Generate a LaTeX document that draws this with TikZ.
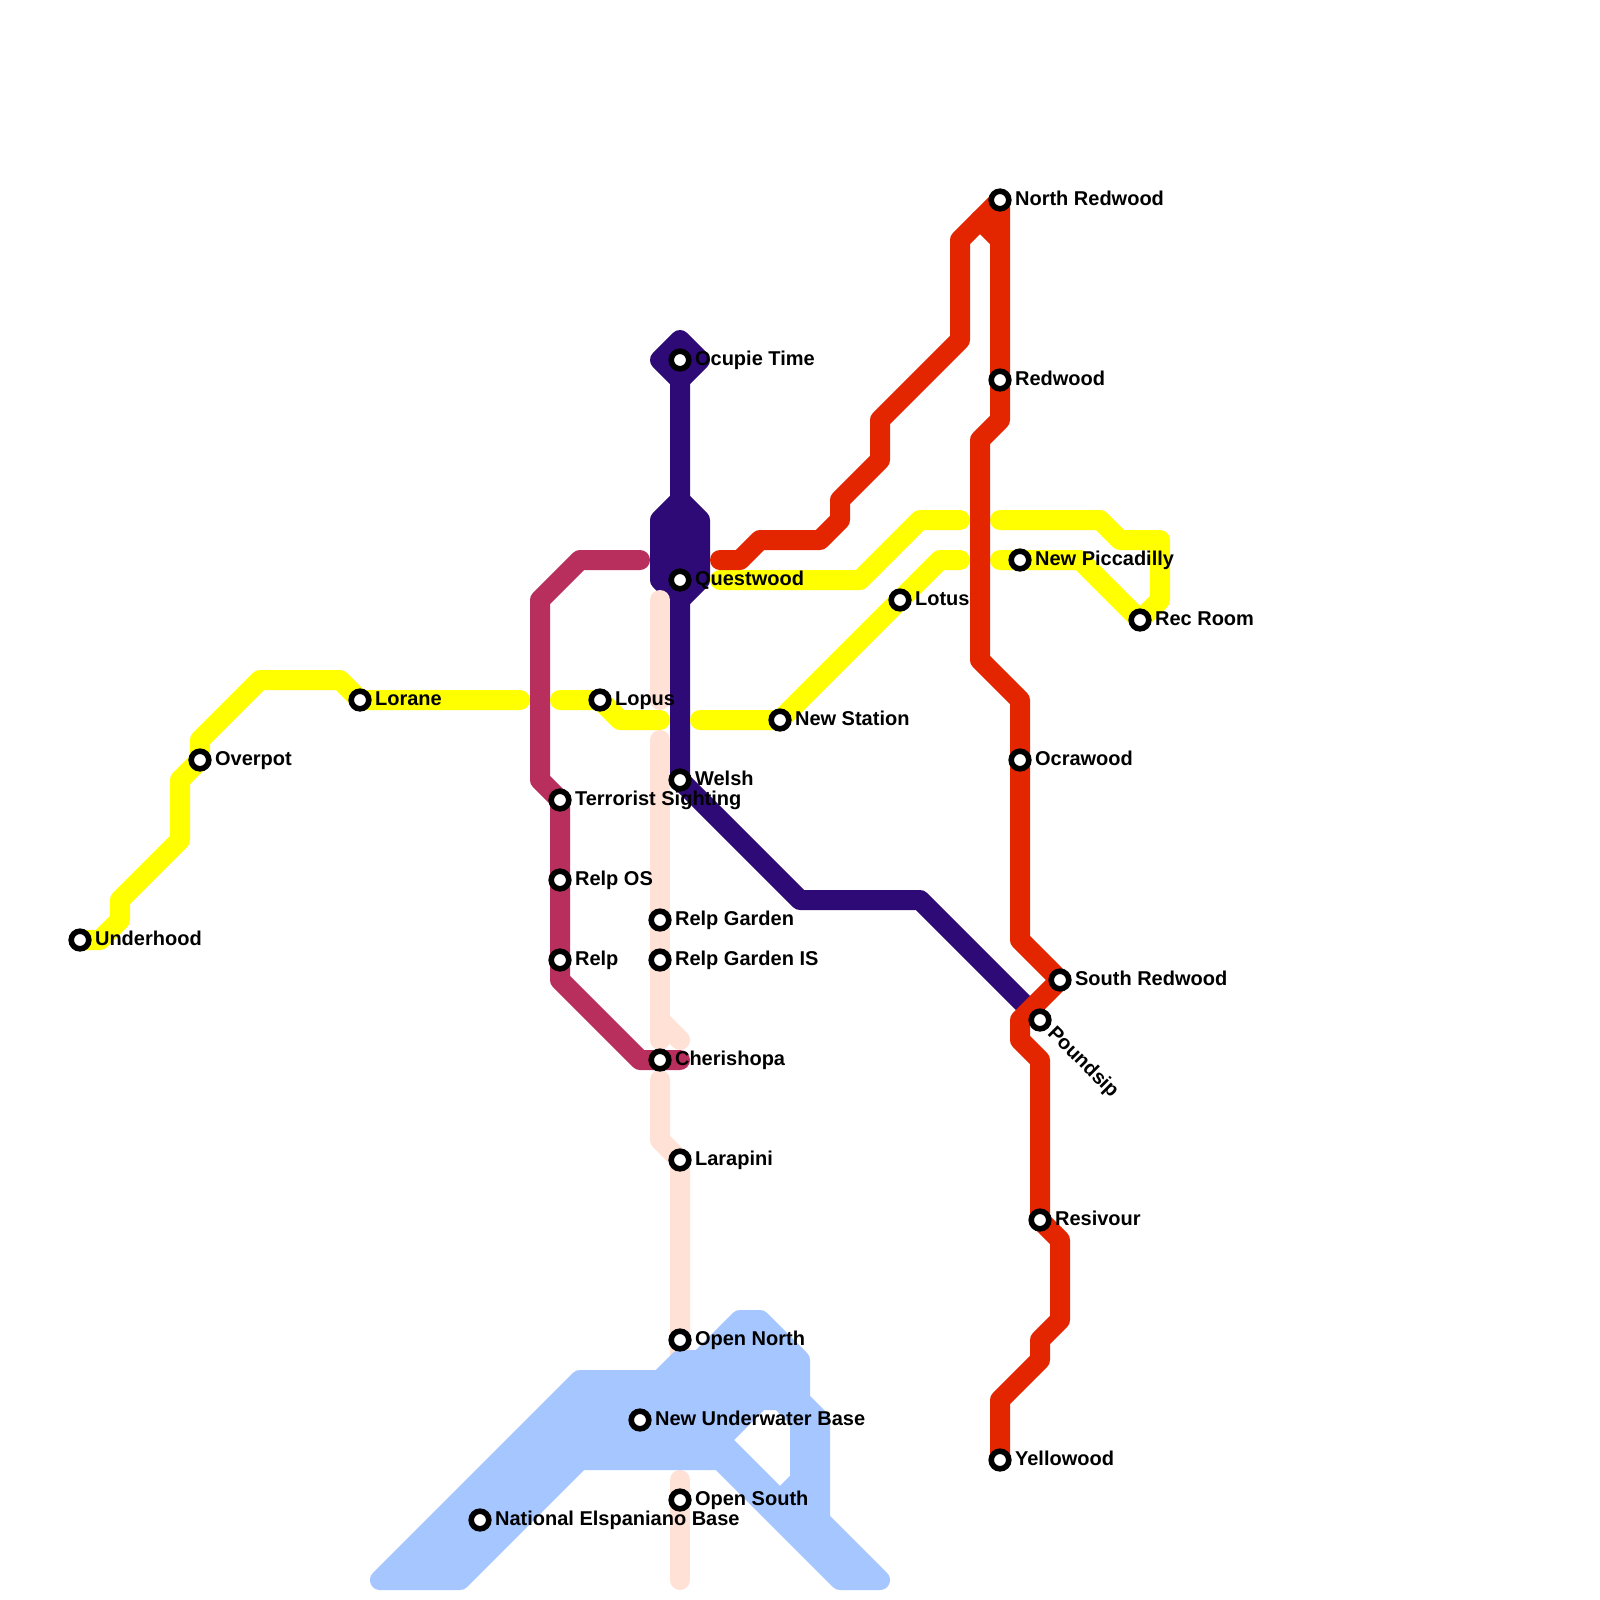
\documentclass[tikz,border=0pt]{standalone}
\usepackage{fontspec}
\setmainfont{Liberation Sans}
\definecolor{lyellow}{HTML}{FFFF00}
\definecolor{lred}{HTML}{E42600}
\definecolor{lpurple}{HTML}{2D0A75}
\definecolor{lmaroon}{HTML}{B82E5C}
\definecolor{lpale}{HTML}{FFE1D6}
\definecolor{lblue}{HTML}{A6C6FF}
\tikzset{
  metro/.style={line width=0.5cm,line cap=round,line join=round},
  yline/.style={metro,draw=lyellow},
  rline/.style={metro,draw=lred},
  pline/.style={metro,draw=lpurple},
  mline/.style={metro,draw=lmaroon},
  sline/.style={metro,draw=lpale},
  bline/.style={metro,draw=lblue,fill=lblue,even odd rule},
  stn/.style={circle,draw=black,fill=white,line width=0.14cm,minimum size=0.44cm,inner sep=0pt},
  lab/.style={anchor=base west,inner sep=0pt,xshift=0.37cm,yshift=-0.125cm,font=\fontsize{0.5cm}{0.6cm}\selectfont\bfseries},
  labd/.style={anchor=base west,inner sep=0pt,xshift=0.165cm,yshift=-0.345cm,rotate=-45,font=\fontsize{0.5cm}{0.6cm}\selectfont\bfseries}
}
\begin{document}
\begin{tikzpicture}[x=0.5cm,y=-0.5cm]
\useasboundingbox (0,0) rectangle (80,80);
\fill[white] (0,0) rectangle (80,80);
% station positions
\coordinate (underhood) at (4,47);
\coordinate (overpot) at (10,38);
\coordinate (lorane) at (18,35);
\coordinate (lopus) at (30,35);
\coordinate (ocupie) at (34,18);
\coordinate (questwood) at (34,29);
\coordinate (terrorist) at (28,40);
\coordinate (relpos) at (28,44);
\coordinate (relp) at (28,48);
\coordinate (garden) at (33,46);
\coordinate (gardenis) at (33,48);
\coordinate (cherishopa) at (33,53);
\coordinate (larapini) at (34,58);
\coordinate (opennorth) at (34,67);
\coordinate (newunder) at (32,71);
\coordinate (opensouth) at (34,75);
\coordinate (national) at (24,76);
\coordinate (welsh) at (34,39);
\coordinate (newstation) at (39,36);
\coordinate (lotus) at (45,30);
\coordinate (northred) at (50,10);
\coordinate (redwood) at (50,19);
\coordinate (piccadilly) at (51,28);
\coordinate (recroom) at (57,31);
\coordinate (ocrawood) at (51,38);
\coordinate (southred) at (53,49);
\coordinate (poundsip) at (52,51);
\coordinate (resivour) at (52,61);
\coordinate (yellowood) at (50,73);
% purple
\draw[pline,fill=lpurple] (33,18) -- (34,17) -- (35,18) -- (34,19) -- cycle;
\draw[pline,fill=lpurple] (33,26) -- (34,25) -- (35,26) -- (35,29) -- (34,30) -- (33,29) -- cycle;
\draw[pline] (ocupie) -- (welsh) -- (40,45) -- (46,45) -- (51.5,50.5);
% pale
\draw[sline] (33,30) -- (33,35);
\draw[sline] (33,37) -- (garden) -- (gardenis) -- (33,52);
\draw[sline] (33,51) -- (34,52);
\draw[sline] (33,54) -- (33,57) -- (larapini) -- (opennorth) -- (34,68);
\draw[sline] (34,74) -- (opensouth) -- (34,79);
% maroon
\draw[mline] (32,28) -- (29,28) -- (27,30) -- (27,39) -- (terrorist) -- (relpos) -- (relp) -- (28,49) -- (32,53) -- (34,53);
% yellow
\draw[yline] (underhood) -- (5,47) -- (6,46) -- (6,45) -- (9,42) -- (9,39) -- (10,38) -- (10,37) -- (13,34) -- (17,34) -- (lorane) -- (26,35);
\draw[yline] (28,35) -- (lopus) -- (31,36) -- (33,36);
\draw[yline] (35,36) -- (newstation) -- (lotus) -- (47,28) -- (48,28);
\draw[yline] (50,28) -- (piccadilly) -- (54,28) -- (recroom) -- (58,30) -- (58,27) -- (56,27) -- (55,26) -- (50,26);
\draw[yline] (36,29) -- (43,29) -- (46,26) -- (48,26);
% red
\draw[rline] (36,28) -- (37,28) -- (38,27) -- (41,27) -- (42,26) -- (42,25) -- (44,23) -- (44,21) -- (48,17) -- (48,12) -- (northred) -- (redwood) -- (50,21) -- (49,22) -- (49,33) -- (51,35) -- (ocrawood) -- (51,47) -- (southred) -- (51,51) -- (51,52) -- (52,53) -- (resivour) -- (53,62) -- (53,66) -- (52,67) -- (52,68) -- (50,70) -- (yellowood);
\draw[rline] (49,11) -- (50,12);
% blue
\draw[bline] (19,79) -- (29,69) -- (33,69) -- (34,68) -- (35,68) -- (37,66) -- (38,66) -- (40,68) -- (40,70) -- (41,71) -- (41,76) -- (44,79) -- (42,79) -- (36,73) -- (29,73) -- (23,79) -- cycle
  (36,72) -- (38,70) -- (39,70) -- (40,71) -- (40,74) -- (39,75) -- cycle;
% stations
\foreach \s in {underhood,overpot,lorane,lopus,ocupie,questwood,terrorist,relpos,relp,garden,gardenis,cherishopa,larapini,opennorth,newunder,opensouth,national,welsh,newstation,lotus,northred,redwood,piccadilly,recroom,ocrawood,southred,poundsip,resivour,yellowood}
  \node[stn] (st-\s) at (\s) {};
% labels
\node[lab] (l-underhood) at (underhood) {Underhood};
\node[lab] (l-overpot) at (overpot) {Overpot};
\node[lab] (l-lorane) at (lorane) {Lorane};
\node[lab] (l-lopus) at (lopus) {Lopus};
\node[lab] (l-ocupie) at (ocupie) {Ocupie Time};
\node[lab] (l-questwood) at (questwood) {Questwood};
\node[lab] (l-terrorist) at (terrorist) {Terrorist Sighting};
\node[lab] (l-relpos) at (relpos) {Relp OS};
\node[lab] (l-relp) at (relp) {Relp};
\node[lab] (l-garden) at (garden) {Relp Garden};
\node[lab] (l-gardenis) at (gardenis) {Relp Garden IS};
\node[lab] (l-cherishopa) at (cherishopa) {Cherishopa};
\node[lab] (l-larapini) at (larapini) {Larapini};
\node[lab] (l-opennorth) at (opennorth) {Open North};
\node[lab] (l-newunder) at (newunder) {New Underwater Base};
\node[lab] (l-opensouth) at (opensouth) {Open South};
\node[lab] (l-national) at (national) {National Elspaniano Base};
\node[lab] (l-welsh) at (welsh) {Welsh};
\node[lab] (l-newstation) at (newstation) {New Station};
\node[lab] (l-lotus) at (lotus) {Lotus};
\node[lab] (l-northred) at (northred) {North Redwood};
\node[lab] (l-redwood) at (redwood) {Redwood};
\node[lab] (l-piccadilly) at (piccadilly) {New Piccadilly};
\node[lab] (l-recroom) at (recroom) {Rec Room};
\node[lab] (l-ocrawood) at (ocrawood) {Ocrawood};
\node[lab] (l-southred) at (southred) {South Redwood};
\node[labd] (l-poundsip) at (poundsip) {Poundsip};
\node[lab] (l-resivour) at (resivour) {Resivour};
\node[lab] (l-yellowood) at (yellowood) {Yellowood};
\end{tikzpicture}
\end{document}
